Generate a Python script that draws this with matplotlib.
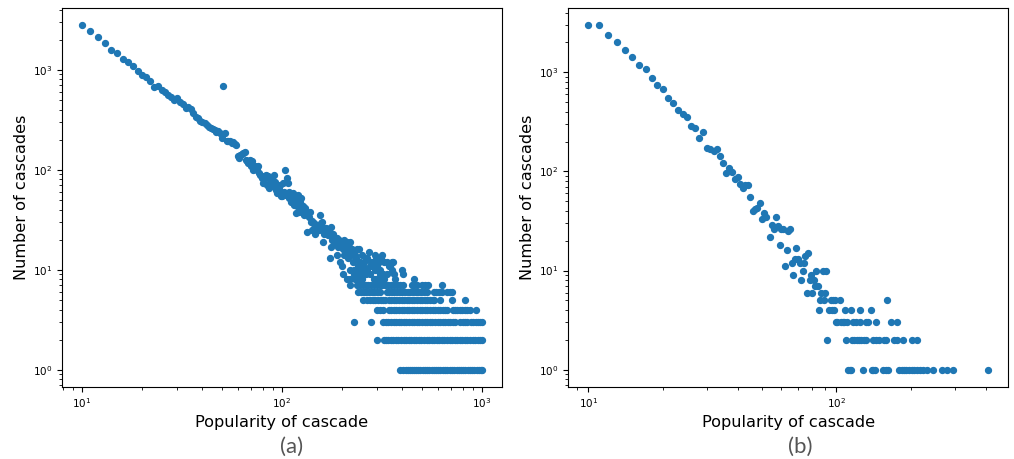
import matplotlib
matplotlib.use("Agg")
import matplotlib.pyplot as plt

# ---- panel (a): popularity 10..1000 ----
# popularity 10..59, one point each
a_head_x = list(range(10, 60))
a_head_y = [2800, 2455, 2120, 1850, 1574, 1457, 1279, 1194, 1080, 977,
            885, 838, 770, 666, 692, 631, 593, 554, 533, 493,
            517, 479, 454, 414, 424, 405, 369, 337, 330, 307,
            302, 295, 280, 270, 263, 255, 251, 241, 244, 232,
            209, 687, 233, 196, 192, 196, 187, 190, 182, 177]

# popularity 60..130
a_mid_x = list(range(60, 131))
a_mid_y = [136, 130, 141, 145, 147, 149, 126, 121, 117, 125,
           110, 121, 100, 108, 103, 100, 108, 92, 89, 83,
           74, 86, 83, 89, 71, 86, 66, 76, 72, 80,
           68, 89, 76, 62, 58, 68, 61, 64, 71, 54,
           54, 74, 60, 58, 100, 56, 83, 74, 60, 52,
           56, 48, 54, 58, 54, 44, 52, 37, 48, 43,
           56, 45, 38, 48, 40, 52, 43, 38, 43, 35, 41]

# noisy band above the integer rows
a_band_x = [131, 133, 136, 138, 140, 141, 142, 144, 145, 147, 148, 150, 153, 155,
            157, 158, 160, 161, 163, 164, 166, 168, 170, 172, 174, 175, 176, 177,
            179, 181, 183, 185, 188, 189, 191, 193, 195, 197, 199, 200, 201, 203,
            205, 207, 209, 211, 213, 214, 216, 218, 220, 222, 224, 226, 229, 232,
            234, 237, 240, 242, 246, 250, 253, 258, 262, 267, 271, 276, 280, 285,
            287, 292, 296, 298, 305, 313, 316, 322, 333, 341, 348, 355, 358]
a_band_y = [37, 24, 34, 38, 30, 25, 31, 29, 26, 23, 28, 27, 25, 35,
            29, 30, 26, 19, 23, 24, 26, 23, 22, 25, 13, 27, 17, 20,
            23, 18, 21, 19, 21, 14, 17, 20, 12, 19, 11, 18, 16, 14,
            20, 16, 17, 19, 14, 13, 17, 19, 15, 14, 16, 12, 15, 14,
            13, 16, 11, 16, 12, 14, 11, 12, 13, 13, 15, 11, 12, 11,
            12, 14, 13, 11, 12, 13, 14, 12, 12, 11, 11, 12, 12]

# popularity values sitting on the integer count rows
a_row10 = [219, 228, 237, 247, 257, 267, 292, 301, 310, 355, 398]
a_row9 = [202, 228, 236, 242, 254, 264, 275, 310, 320, 333, 361, 404]
a_row8 = [211, 220, 232, 240, 250, 287, 295, 304, 313, 322, 368, 455]
a_row7 = [219, 237, 245, 253, 262, 270, 278, 287, 298, 308, 318, 329, 340, 352,
          364, 376, 390, 404, 445, 458, 475, 501, 519, 540, 628]
a_row6 = [240, 248, 256, 264, 272, 281, 290, 300, 310, 333, 343, 354, 365, 376,
          388, 400, 412, 425, 438, 451, 465, 480, 495, 510, 528, 575, 590, 607,
          631, 668, 694, 708]
a_row5 = [254, 267, 275, 284, 293, 302, 311, 320, 328, 341, 351, 362, 373, 384,
          396, 408, 420, 433, 446, 459, 473, 487, 502, 517, 533, 549, 566, 573,
          619, 705, 825]
a_row4 = [300, 310, 320, 341, 351, 362, 373, 384, 396, 408, 420, 433, 446, 459,
          473, 487, 502, 517, 533, 549, 566, 583, 600, 618, 637, 656, 672, 715,
          730, 751, 774, 797, 821, 846, 874, 930]
a_row3 = [230, 279, 320, 330, 340, 350, 361, 372, 383, 395, 407, 419, 432, 445,
          458, 472, 486, 501, 516, 532, 548, 564, 581, 599, 617, 636, 655, 675,
          695, 716, 735, 779, 800, 823, 842, 881, 905, 930, 955, 980, 1000]
a_row2 = [298, 322, 330, 340, 350, 360, 371, 382, 394, 406, 418, 430, 443, 456,
          470, 484, 498, 513, 528, 544, 560, 577, 594, 612, 630, 649, 668, 688,
          709, 730, 752, 774, 797, 821, 846, 871, 897, 924, 952, 980, 1000]
a_row1 = [390, 403, 418, 428, 438, 448, 458, 469, 480, 492, 505, 518, 530, 545,
          560, 575, 590, 605, 620, 637, 655, 672, 690, 708, 727, 746, 765, 785,
          805, 826, 848, 870, 893, 916, 940, 964, 989, 1000]

# ---- panel (b): popularity 10..410 ----
b_x = [10, 11, 12, 13, 14, 15, 16, 17, 18, 19, 20, 21, 22, 23, 24, 25, 26, 27,
       28, 29, 30, 31, 32, 33, 34, 35, 36, 37, 38, 39, 40, 41, 42, 43, 44, 45,
       46, 47, 48, 49, 50, 51, 52, 54, 55, 56, 57, 58, 59, 60, 61, 62, 63, 64,
       65, 66, 67, 68, 69, 70, 71, 72, 73, 74, 75, 76, 77, 78, 79, 80, 81, 82,
       83, 84, 85, 86, 87, 88, 89, 90, 91, 92, 93, 95, 96, 97, 98, 99, 100, 101,
       103, 104, 106, 107, 108, 109, 110, 111, 113, 114, 115, 116, 117, 118,
       120, 121, 123, 124, 125, 126, 128, 129, 131, 132, 134, 138, 139, 140,
       141, 143, 144, 145, 149, 154, 155, 158, 159, 160, 162, 166, 171, 175,
       176, 179, 183, 185, 187, 191, 196, 201, 202, 206, 211, 212, 218, 224,
       231, 246, 267, 278, 296, 410]
b_y = [3000, 2980, 2400, 2030, 1680, 1440, 1190, 1090, 870, 745, 685, 546, 495,
       416, 376, 357, 286, 272, 220, 252, 172, 168, 162, 168, 142, 123, 97, 109,
       98, 84, 88, 74, 68, 73, 73, 55, 40, 42, 43, 48, 33, 38, 35, 22, 29, 26,
       35, 28, 18, 26, 26, 11, 16, 25, 26, 12, 9, 13, 17, 13, 12, 8, 10, 12, 14,
       6, 15, 8, 9, 6, 8, 7, 10, 7, 4, 5, 6, 10, 5, 6, 10, 2, 4, 5, 4, 5, 4, 5,
       3, 3, 5, 3, 3, 3, 4, 2, 3, 1, 1, 4, 1, 2, 3, 2, 3, 2, 2, 3, 4, 2, 1, 2,
       3, 2, 3, 4, 1, 2, 1, 1, 2, 3, 2, 1, 2, 1, 2, 5, 1, 3, 2, 3, 2, 1, 1, 2,
       1, 1, 1, 2, 1, 1, 2, 1, 1, 1, 1, 1, 1, 1, 1, 1]

rows_a = [(a_row1, 1), (a_row2, 2), (a_row3, 3), (a_row4, 4), (a_row5, 5),
          (a_row6, 6), (a_row7, 7), (a_row8, 8), (a_row9, 9), (a_row10, 10)]

ax_x = a_head_x + a_mid_x + a_band_x
ax_y = a_head_y + a_mid_y + a_band_y
for xs, level in rows_a:
    ax_x += xs
    ax_y += [level] * len(xs)

color = "#1f77b4"
fig = plt.figure(figsize=(10.14, 4.59), dpi=100)
ax1 = fig.add_axes([0.0611, 0.157, 0.434, 0.826])
ax2 = fig.add_axes([0.5605, 0.157, 0.434, 0.826])

ax1.scatter(ax_x, ax_y, s=18, color=color)
ax2.scatter(b_x, b_y, s=18, color=color)

for ax, tag, cx in [(ax1, "(a)", 0.288), (ax2, "(b)", 0.789)]:
    ax.set_xscale("log")
    ax.set_yscale("log")
    ax.set_xlabel("Popularity of cascade", fontsize=11.6, labelpad=3)
    ax.set_ylabel("Number of cascades", fontsize=11.6, labelpad=3)
    ax.tick_params(which="major", labelsize=7.5, length=3.5, width=0.8)
    ax.tick_params(which="minor", length=2, width=0.6)
    fig.text(cx, 0.027, tag, ha="center", va="center", fontsize=16,
             color="#555555", family=["Lato", "DejaVu Sans"])

fig.savefig("out.png", dpi=100)
